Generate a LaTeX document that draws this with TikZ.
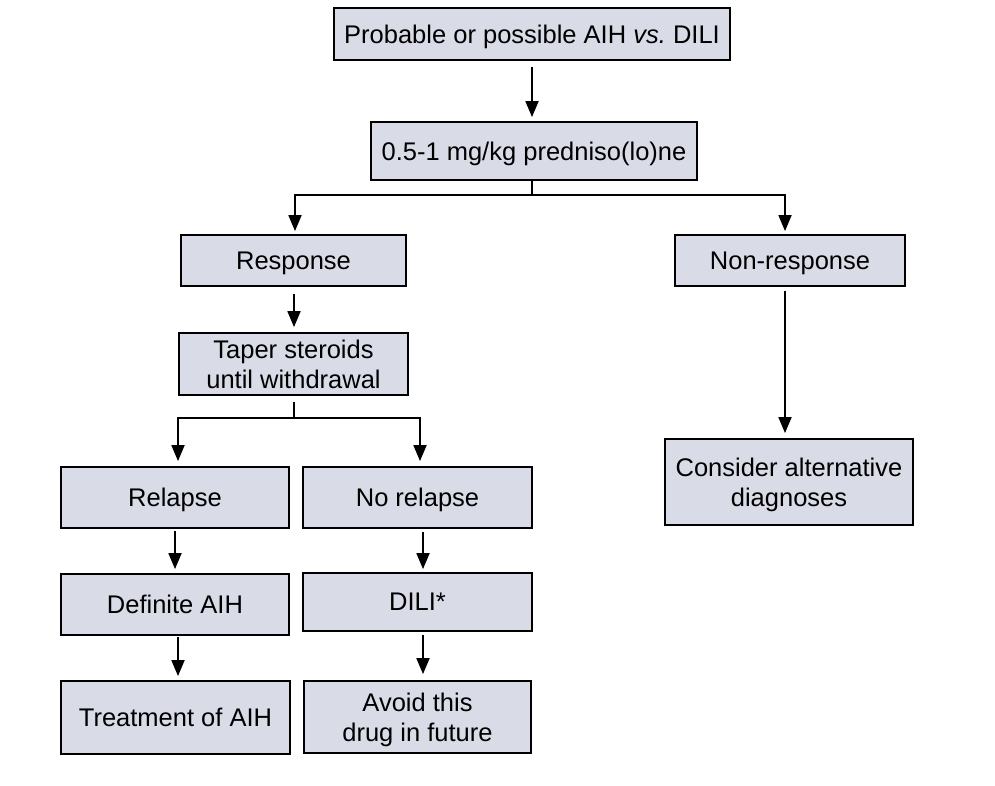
\documentclass[tikz,border=0pt]{standalone}
\usepackage{fontspec}
\setmainfont{Liberation Sans}
\usetikzlibrary{arrows.meta}
\definecolor{boxfill}{HTML}{D9DCE7}
\tikzset{
  box/.style={draw=black, line width=1.8pt, fill=boxfill, align=center, inner sep=0pt,
    text depth=0pt, font=\fontsize{25.5}{30}\selectfont},
  arr/.style={line width=1.8pt, -{Triangle[length=16pt,width=13pt]}},
  ln/.style={line width=1.8pt}
}
\frenchspacing
\begin{document}
\begin{tikzpicture}[x=1pt,y=-1pt]
\useasboundingbox (0,0) rectangle (995,786);
\node[box, minimum width=396pt, minimum height=52pt] (top) at (532,34) {Probable or possible AIH \textit{vs.}\ DILI};
\node[box, minimum width=326pt, minimum height=58pt] (pred) at (534,151) {0.5-1 mg/kg predniso(lo)ne};
\node[box, minimum width=225pt, minimum height=51pt] (resp) at (293.5,260.5) {Response};
\node[box, minimum width=230pt, minimum height=51pt] (nonresp) at (790,260.5) {Non-response};
\node[box, minimum width=229pt, minimum height=62pt] (taper) at (293.5,364) {Taper steroids\\until withdrawal};
\node[box, minimum width=228pt, minimum height=61pt] (relapse) at (175,497.5) {Relapse};
\node[box, minimum width=229pt, minimum height=61pt] (norelapse) at (417.5,497.5) {No relapse};
\node[box, minimum width=228pt, minimum height=61pt] (definite) at (175,604.5) {Definite AIH};
\node[box, minimum width=229pt, minimum height=58pt] (dili) at (417.5,602) {DILI*};
\node[box, minimum width=229pt, minimum height=73pt] (treat) at (175.5,717.5) {Treatment of AIH};
\node[box, minimum width=227pt, minimum height=72pt] (avoid) at (417.5,717) {Avoid this\\drug in future};
\node[box, minimum width=248pt, minimum height=86pt] (consider) at (789,482) {Consider alternative\\diagnoses};

\coordinate (b1) at (532,195);
\coordinate (b2) at (294,418);

\draw[arr, shorten <=6pt, shorten >=4pt] (top.south) -- (top.south |- pred.north);
\draw[ln] (pred.south -| b1) -- (b1);
\draw[arr, shorten >=3pt] (b1) -| (resp.north -| 295,0);
\draw[arr, shorten >=3pt] (b1) -| (nonresp.north -| 785,0);
\draw[arr, shorten <=7pt, shorten >=5pt] (resp.south -| 294,0) -- (taper.north -| 294,0);
\draw[ln, shorten <=6pt] (taper.south -| b2) -- (b2);
\draw[arr, shorten >=5pt] (b2) -| (relapse.north -| 178,0);
\draw[arr, shorten >=5pt] (b2) -| (norelapse.north -| 420,0);
\draw[arr, shorten <=2pt, shorten >=4pt] (relapse.south -| 175,0) -- (definite.north -| 175,0);
\draw[arr, shorten <=1pt, shorten >=4pt] (definite.south -| 178,0) -- (treat.north -| 178,0);
\draw[arr, shorten <=3pt, shorten >=3pt] (norelapse.south -| 423,0) -- (dili.north -| 423,0);
\draw[arr, shorten <=3pt, shorten >=6pt] (dili.south -| 423,0) -- (avoid.north -| 423,0);
\draw[arr, shorten <=4pt, shorten >=5pt] (nonresp.south -| 785,0) -- (consider.north -| 785,0);
\end{tikzpicture}
\end{document}
